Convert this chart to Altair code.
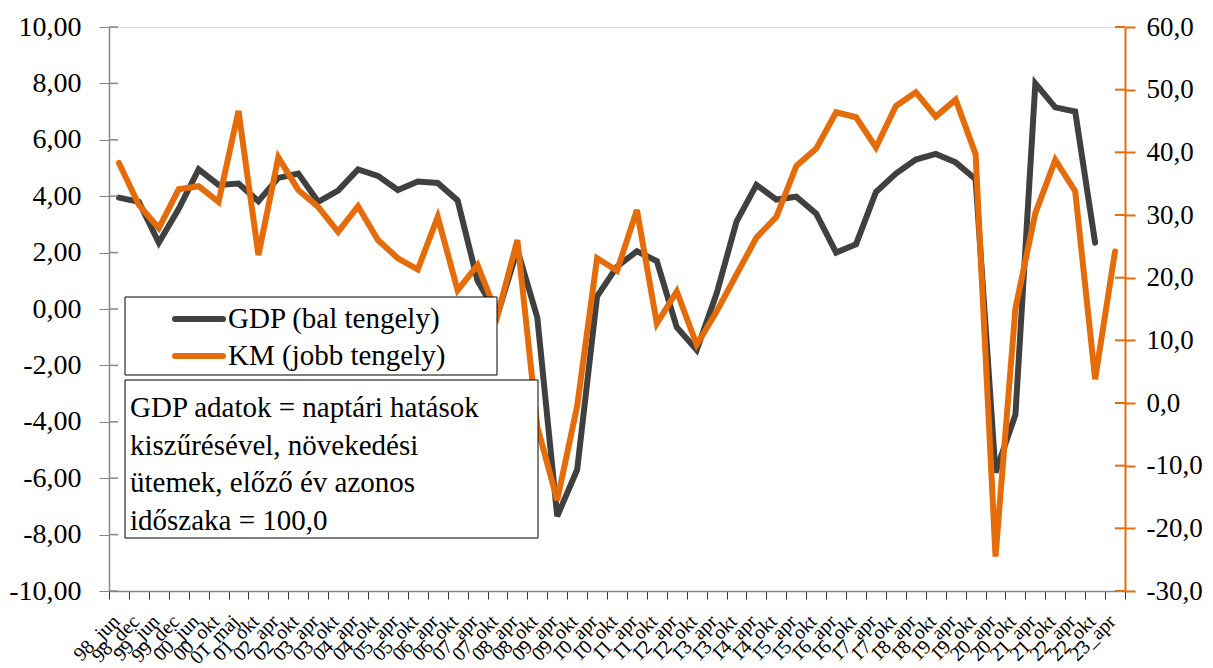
import altair as alt
import pandas as pd

cats = ["98_jun", "98_dec", "99_jun", "99_dec", "00_jun", "00_okt", "01_maj", "01_okt"]
for yy in range(2, 23):
    cats += [f"{yy:02d}_apr", f"{yy:02d}_okt"]
cats += ["23_apr"]

gdp = [3.95, 3.80, 2.35, 3.55, 4.95, 4.40, 4.45, 3.82, 4.65, 4.80,
       3.80, 4.20, 4.95, 4.72, 4.22, 4.52, 4.47, 3.85, 1.00, -0.20,
       2.10, -0.30, -7.35, -5.70, 0.45, 1.50, 2.05, 1.70, -0.65, -1.45,
       0.55, 3.10, 4.40, 3.88, 3.98, 3.38, 2.00, 2.30, 4.15, 4.80,
       5.30, 5.50, 5.20, 4.60, -5.80, -3.75, 8.00, 7.15, 7.00, 2.35]

km = [38.3, 31.6, 27.9, 34.1, 34.6, 32.1, 46.6, 23.6, 39.2, 34.0,
      31.3, 27.3, 31.4, 26.0, 23.1, 21.3, 29.7, 18.0, 22.0, 14.0,
      26.0, -3.8, -15.5, -0.5, 23.1, 21.1, 30.8, 12.7, 17.8, 9.3,
      14.6, 20.5, 26.4, 29.7, 37.8, 40.6, 46.4, 45.6, 40.8, 47.4,
      49.6, 45.7, 48.4, 39.7, -24.5, 15.1, 30.3, 38.8, 33.8, 3.8,
      24.2]

left_ticks = [-10, -8, -6, -4, -2, 0, 2, 4, 6, 8, 10]
right_ticks = [-30, -20, -10, 0, 10, 20, 30, 40, 50, 60]

legend_labels = ["GDP (bal tengely)", "KM (jobb tengely)"]
note_lines = ["GDP adatok = naptári hatások", "kiszűrésével, növekedési",
              "ütemek, előző év azonos", "időszaka = 100,0"]

GRAY = "#404040"
ORANGE = "#E46C0A"
AXGRAY = "#868686"
FONT = "Liberation Serif"
W, H = 1016, 564

gdp_df = pd.DataFrame({"cat": cats[:len(gdp)], "val": gdp})
km_df = pd.DataFrame({"cat": cats, "val": km})

xenc = alt.X("cat:N", sort=cats, bandPosition=0.5, title=None,
             scale=alt.Scale(type="band", domain=cats, paddingInner=0, paddingOuter=0),
             axis=alt.Axis(tickBand="extent", labelAngle=-45, labelAlign="right",
                           labelBaseline="middle", labelFont=FONT, labelFontSize=20,
                           labelColor="black", domainColor=AXGRAY, domainWidth=1.5,
                           tickColor="#333333", tickSize=8, labelPadding=19, labelOffset=-3,
                           grid=False))

lscale = alt.Scale(domain=[-10, 10], nice=False, zero=False)
rscale = alt.Scale(domain=[-30, 60], nice=False, zero=False)

gdp_line = alt.Chart(gdp_df).mark_line(color=GRAY, strokeWidth=6, strokeCap="round").encode(
    x=xenc,
    y=alt.Y("val:Q", scale=lscale, title=None,
            axis=alt.Axis(orient="left", values=left_ticks, grid=False,
                          labelExpr="(datum.value < 0 ? '-' : '') + replace(format(abs(datum.value), '.2f'), '.', ',')",
                          labelFont=FONT, labelFontSize=28, labelColor="black",
                          domainColor=AXGRAY, domainWidth=1.5, tickColor=AXGRAY,
                          tickSize=10, labelPadding=18))
)

km_line = alt.Chart(km_df).mark_line(color=ORANGE, strokeWidth=6, strokeCap="round").encode(
    x=xenc,
    y=alt.Y("val:Q", scale=rscale, title=None,
            axis=alt.Axis(orient="right", values=right_ticks, grid=False,
                          labelExpr="(datum.value < 0 ? '-' : '') + replace(format(abs(datum.value), '.1f'), '.', ',')",
                          labelFont=FONT, labelFontSize=27, labelColor="black",
                          domainColor=ORANGE, domainWidth=2, tickColor=ORANGE, tickWidth=2,
                          tickSize=10, labelPadding=11))
)

lt = alt.Chart(pd.DataFrame({"v": left_ticks})).mark_rule(color=AXGRAY, strokeWidth=1.5).encode(
    y=alt.Y("v:Q", scale=lscale, axis=None), x=alt.value(0), x2=alt.value(9))
rt = alt.Chart(pd.DataFrame({"v": right_ticks})).mark_rule(color=ORANGE, strokeWidth=2).encode(
    y=alt.Y("v:Q", scale=rscale, axis=None), x=alt.value(W - 10), x2=alt.value(W))

one = pd.DataFrame({"a": [0]})
leg_box = alt.Chart(one).mark_rect(fill="white", stroke="black", strokeWidth=1).encode(
    x=alt.value(16), x2=alt.value(388), y=alt.value(270), y2=alt.value(348))
note_box = alt.Chart(one).mark_rect(fill="white", stroke="black", strokeWidth=1).encode(
    x=alt.value(16), x2=alt.value(429), y=alt.value(353), y2=alt.value(511))
leg_gdp = alt.Chart(one).mark_rule(color=GRAY, strokeWidth=6, strokeCap="round").encode(
    x=alt.value(66), x2=alt.value(114), y=alt.value(292))
leg_km = alt.Chart(one).mark_rule(color=ORANGE, strokeWidth=6, strokeCap="round").encode(
    x=alt.value(66), x2=alt.value(114), y=alt.value(329))
leg_t1 = alt.Chart(one).mark_text(text=legend_labels[0], font=FONT, fontSize=29, align="left",
                                  baseline="middle", color="black").encode(
    x=alt.value(119), y=alt.value(292))
leg_t2 = alt.Chart(one).mark_text(text=legend_labels[1], font=FONT, fontSize=29, align="left",
                                  baseline="middle", color="black").encode(
    x=alt.value(119), y=alt.value(329))
note_t = alt.Chart(one).mark_text(text=note_lines, font=FONT, fontSize=29, align="left",
                                  baseline="middle", lineHeight=37.5, color="black").encode(
    x=alt.value(21), y=alt.value(381))

chart = alt.layer(gdp_line, km_line, lt, rt, leg_box, note_box, leg_gdp, leg_km,
                  leg_t1, leg_t2, note_t).resolve_scale(y="independent").properties(
    width=W, height=H,
    autosize=alt.AutoSizeParams(type="none"),
    padding={"left": 101, "top": 19, "right": 80, "bottom": 77},
).configure_view(stroke=None).configure(background="white")

chart.save("out.html", embed_options={"renderer": "svg", "actions": False})
